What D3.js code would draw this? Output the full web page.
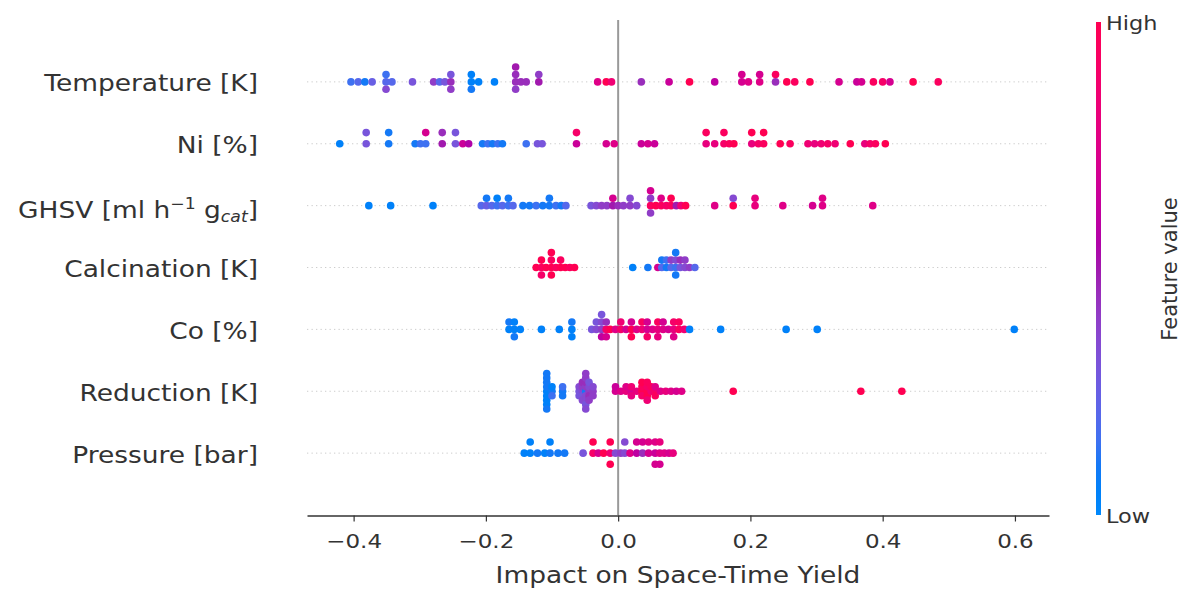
<!DOCTYPE html>
<html><head><meta charset="utf-8">
<script src="https://cdn.jsdelivr.net/npm/d3@7"></script>
<style>body{margin:0;background:#fff} svg{display:block} text{font-family:"DejaVu Sans",sans-serif}</style>
</head><body><svg id="chart" width="1186" height="590"></svg>
<script>
// ---------- data ----------
const featureNames = ["Temperature [K]", "Ni [%]", "GHSV [ml h^-1 g_cat]", "Calcination [K]", "Co [%]", "Reduction [K]", "Pressure [bar]"];
const xTicks = [-0.4, -0.2, 0.0, 0.2, 0.4, 0.6];
const xLabel = "Impact on Space-Time Yield";
const colorbarLabels = ["Low", "High"];
const colorbarTitle = "Feature value";

const tempShap = [-0.404,-0.393,-0.383,-0.372,-0.351,-0.351,-0.351,-0.342,-0.311,-0.279,-0.27,-0.262,-0.253,-0.253,-0.253,-0.222,-0.222,-0.222,-0.211,-0.187,-0.155,-0.155,-0.155,-0.155,-0.147,-0.139,-0.12,-0.12,-0.031,-0.018,-0.010,0.035,0.077,0.108,0.146,0.187,0.187,0.197,0.214,0.214,0.238,0.238,0.255,0.267,0.290,0.334,0.361,0.368,0.386,0.400,0.411,0.446,0.484];
const tempValue = [0.15,0.2,0.1,0.25,0.2,0.15,0.35,0.2,0.3,0.4,0.2,0.3,0.45,0.3,0.4,0.05,0.05,0.1,0.05,0.05,0.45,0.45,0.4,0.5,0.45,0.45,0.5,0.4,0.75,1.0,0.85,0.45,0.65,1.0,0.6,0.7,0.7,0.75,0.75,0.7,0.45,0.95,1.0,0.95,1.0,0.7,0.65,0.7,0.95,0.9,0.7,1.0,0.95];

const niShap = [-0.421,-0.381,-0.381,-0.347,-0.347,-0.307,-0.299,-0.291,-0.291,-0.266,-0.266,-0.246,-0.246,-0.235,-0.226,-0.205,-0.197,-0.19,-0.182,-0.175,-0.139,-0.122,-0.115,-0.063,-0.063,-0.018,-0.006,0.035,0.045,0.055,0.133,0.133,0.146,0.160,0.160,0.168,0.175,0.202,0.202,0.212,0.220,0.220,0.245,0.260,0.287,0.297,0.307,0.317,0.328,0.351,0.373,0.381,0.389,0.404];
const niValue = [0.05,0.3,0.3,0.1,0.1,0.1,0.15,0.15,0.7,0.5,0.45,0.3,0.3,0.65,0.55,0.1,0.15,0.1,0.15,0.1,0.15,0.3,0.3,0.65,0.9,0.7,0.75,0.65,0.7,0.65,0.8,0.95,0.8,0.9,0.95,0.95,1.0,0.8,1.0,0.9,0.95,1.0,1.0,0.95,0.85,0.8,0.85,0.9,0.85,1.0,0.8,0.9,0.95,1.0];

const ghsvShap = [-0.377,-0.344,-0.280,-0.207,-0.199,-0.199,-0.191,-0.183,-0.183,-0.175,-0.166,-0.166,-0.159,-0.144,-0.134,-0.124,-0.114,-0.104,-0.104,-0.094,-0.086,-0.079,-0.041,-0.033,-0.025,-0.017,-0.008,-0.008,0.0,0.008,0.018,0.018,0.028,0.049,0.049,0.049,0.049,0.057,0.065,0.065,0.073,0.080,0.080,0.088,0.095,0.102,0.146,0.174,0.174,0.207,0.207,0.249,0.294,0.309,0.309,0.385];
const ghsvValue = [0.05,0.05,0.05,0.2,0.25,0.1,0.2,0.15,0.05,0.2,0.15,0.1,0.2,0.1,0.1,0.15,0.1,0.1,0.1,0.15,0.1,0.2,0.3,0.35,0.4,0.4,0.5,0.7,0.45,0.4,0.4,0.35,0.35,0.95,0.4,0.4,0.7,1.0,0.95,0.75,0.9,0.95,1.0,0.5,0.85,1.0,0.75,1.0,0.35,0.8,0.8,0.75,0.7,0.75,0.75,0.75];

const calcShap = [-0.124,-0.116,-0.116,-0.116,-0.109,-0.101,-0.101,-0.101,-0.101,-0.094,-0.087,-0.087,-0.080,-0.073,-0.066,0.022,0.045,0.060,0.066,0.066,0.073,0.073,0.080,0.080,0.087,0.087,0.087,0.087,0.094,0.094,0.101,0.101,0.108,0.116];
const calcValue = [1.0,0.95,1.0,0.9,1.0,1.0,0.95,1.0,1.0,0.95,1.0,0.95,1.0,0.95,1.0,0.05,0.1,0.7,0.2,0.1,0.1,0.15,0.2,0.4,0.15,0.35,0.1,0.1,0.3,0.45,0.35,0.4,0.4,0.2];

const coShap = [-0.165,-0.165,-0.157,-0.157,-0.157,-0.148,-0.116,-0.089,-0.070,-0.070,-0.070,-0.040,-0.033,-0.033,-0.025,-0.025,-0.025,-0.025,-0.018,-0.018,-0.018,-0.012,-0.004,0.004,0.004,0.012,0.020,0.020,0.020,0.028,0.036,0.036,0.044,0.044,0.044,0.052,0.060,0.060,0.060,0.068,0.068,0.076,0.084,0.084,0.084,0.092,0.092,0.100,0.108,0.155,0.254,0.301,0.599];
const coValue = [0.05,0.1,0.05,0.05,0.1,0.05,0.05,0.05,0.05,0.1,0.05,0.3,0.35,0.3,0.4,0.35,0.6,0.3,0.9,0.45,0.7,1.0,0.75,0.9,0.85,0.7,1.0,0.7,1.0,0.75,0.85,0.95,0.7,0.7,0.9,0.75,0.8,0.95,0.8,0.75,0.7,0.7,0.8,0.9,0.75,0.95,0.95,0.85,0.05,0.05,0.05,0.05,0.05];

const redShap = [-0.108,-0.108,-0.108,-0.108,-0.108,-0.108,-0.108,-0.108,-0.108,-0.100,-0.100,-0.100,-0.084,-0.084,-0.084,-0.059,-0.059,-0.059,-0.054,-0.054,-0.054,-0.054,-0.054,-0.049,-0.049,-0.049,-0.049,-0.049,-0.049,-0.049,-0.049,-0.049,-0.044,-0.044,-0.044,-0.044,-0.044,-0.038,-0.038,-0.038,-0.004,-0.004,0.004,0.012,0.012,0.020,0.020,0.020,0.028,0.036,0.036,0.036,0.036,0.044,0.044,0.044,0.044,0.044,0.050,0.050,0.056,0.056,0.056,0.064,0.072,0.080,0.088,0.096,0.174,0.367,0.429];
const redValue = [0.05,0.1,0.05,0.1,0.05,0.1,0.05,0.1,0.1,0.1,0.05,0.15,0.1,0.15,0.1,0.3,0.35,0.3,0.35,0.4,0.3,0.45,0.35,0.1,0.4,0.35,0.45,0.35,0.4,0.3,0.4,0.35,0.4,0.35,0.45,0.3,0.4,0.4,0.35,0.4,0.7,0.65,0.75,0.8,0.75,0.7,0.85,0.8,0.8,1.0,0.95,0.9,1.0,1.0,0.9,1.0,0.95,0.85,0.85,0.95,0.9,0.75,0.95,0.75,0.8,0.75,0.7,0.75,1.0,1.0,1.0];

const presShap = [-0.142,-0.133,-0.133,-0.122,-0.111,-0.103,-0.103,-0.091,-0.081,-0.053,-0.038,-0.038,-0.030,-0.022,-0.012,-0.012,-0.012,-0.004,0.004,0.010,0.010,0.018,0.028,0.028,0.037,0.037,0.046,0.046,0.056,0.056,0.056,0.063,0.063,0.063,0.070,0.077,0.083];
const presValue = [0.05,0.05,0.05,0.1,0.05,0.1,0.05,0.1,0.1,0.3,0.9,1.0,0.7,1.0,0.85,1.0,1.0,0.35,0.4,0.35,0.35,0.75,0.6,0.7,0.45,0.7,0.7,0.75,0.65,0.75,0.7,0.75,0.8,0.7,0.75,0.7,0.8];

const shapLists = [tempShap, niShap, ghsvShap, calcShap, coShap, redShap, presShap];
const valueLists = [tempValue, niValue, ghsvValue, calcValue, coValue, redValue, presValue];

// ---------- helpers ----------
const SX = 1.15; // horizontal text stretch of the original raster
function shapColor(t) {
  const h = 266.93 + t * (380.32 - 266.93);
  const c = 70 + 20 * t;
  const l = t < 0.5 ? 54 - 28 * t : 40 + 28 * (t - 0.5);
  return d3.hcl(h, c, l).formatRgb();
}
// SHAP-style beeswarm offsets (nbins = 100, row_height = 0.4)
function swarm(vals) {
  const n = vals.length, mn = d3.min(vals), mx = d3.max(vals);
  const quant = vals.map(v => Math.round(100 * (v - mn) / (mx - mn + 1e-8)));
  const inds = d3.range(n).sort((a, b) => (quant[a] - quant[b]) || (a - b));
  const ys = new Array(n).fill(0);
  let layer = 0, last = -1;
  for (const i of inds) {
    if (quant[i] !== last) layer = 0;
    ys[i] = Math.ceil(layer / 2) * ((layer % 2) * 2 - 1);
    layer++; last = quant[i];
  }
  const m = d3.max(ys) + 1;
  return ys.map(d => d * 0.9 * (0.4 / m));
}

// ---------- scales ----------
const svg = d3.select("#chart");
const nF = featureNames.length;
const x = d3.scaleLinear().domain([-0.4705, 0.6515]).range([307, 1049]);
const y = d3.scaleLinear().domain([-1, nF]).range([515, 20]);

// grid lines
featureNames.forEach((f, i) => {
  const pos = nF - 1 - i;
  svg.append("line")
    .attr("x1", x.range()[0]).attr("x2", x.range()[1])
    .attr("y1", y(pos)).attr("y2", y(pos))
    .attr("stroke", "#cccccc").attr("stroke-width", 1)
    .attr("stroke-dasharray", "1.3,3.2");
});
// zero line
svg.append("line")
  .attr("x1", x(0)).attr("x2", x(0))
  .attr("y1", y(nF)).attr("y2", y(-1))
  .attr("stroke", "#999999").attr("stroke-width", 2);

// dots
shapLists.forEach((vals, i) => {
  const pos = nF - 1 - i;
  const offs = swarm(vals);
  const cols = valueLists[i];
  svg.append("g").selectAll("circle").data(vals).join("circle")
    .attr("cx", d => x(d))
    .attr("cy", (d, j) => y(pos + offs[j]))
    .attr("r", 3.8)
    .attr("fill", (d, j) => shapColor(cols[j]));
});

// y labels
featureNames.forEach((f, i) => {
  const pos = nF - 1 - i;
  const isG = f.startsWith("GHSV");
  const t = svg.append("text")
    .attr("transform", `translate(258,${y(pos) + (isG ? 12 : 9.5)}) scale(${SX},1)`)
    .attr("text-anchor", "end").attr("font-size", 23).attr("fill", "#333");
  if (isG) {
    t.append("tspan").text("GHSV [ml h");
    t.append("tspan").attr("dy", -9).attr("font-size", 15).text("\u22121");
    t.append("tspan").attr("dy", 9).text(" g");
    t.append("tspan").attr("dy", 4).attr("font-size", 15).attr("font-style", "italic").text("cat");
    t.append("tspan").attr("dy", -4).text("]");
  } else {
    t.text(f);
  }
});

// x axis
const ax = svg.append("g").attr("transform", "translate(0,515.5)")
  .call(d3.axisBottom(x).tickValues(xTicks).tickFormat(d3.format(".1f"))
    .tickSize(6).tickPadding(12).tickSizeOuter(0));
ax.select(".domain").attr("stroke", "#333").attr("stroke-width", 1.3);
ax.selectAll(".tick line").attr("stroke", "#333").attr("stroke-width", 1.2);
ax.selectAll(".tick text").attr("font-size", 20).attr("fill", "#333")
  .attr("font-family", "DejaVu Sans").attr("transform", `scale(${SX},1)`);

svg.append("text")
  .attr("transform", `translate(${(x.range()[0] + x.range()[1]) / 2},583) scale(${SX},1)`)
  .attr("text-anchor", "middle").attr("font-size", 23).attr("fill", "#333")
  .text(xLabel);

// colorbar
const defs = svg.append("defs");
const grad = defs.append("linearGradient").attr("id", "cbar")
  .attr("x1", 0).attr("y1", 1).attr("x2", 0).attr("y2", 0);
d3.range(0, 1.0001, 0.05).forEach(t => {
  grad.append("stop").attr("offset", t).attr("stop-color", shapColor(t));
});
svg.append("rect").attr("x", 1096).attr("y", 22).attr("width", 5).attr("height", 493)
  .attr("fill", "url(#cbar)");
svg.append("text").attr("transform", `translate(1106,30) scale(${SX},1)`)
  .attr("font-size", 19.5).attr("fill", "#333").text(colorbarLabels[1]);
svg.append("text").attr("transform", `translate(1106,523) scale(${SX},1)`)
  .attr("font-size", 19.5).attr("fill", "#333").text(colorbarLabels[0]);
svg.append("text").attr("transform", "translate(1177,269) rotate(-90)")
  .attr("text-anchor", "middle").attr("font-size", 21).attr("fill", "#333")
  .text(colorbarTitle);
</script></body></html>
